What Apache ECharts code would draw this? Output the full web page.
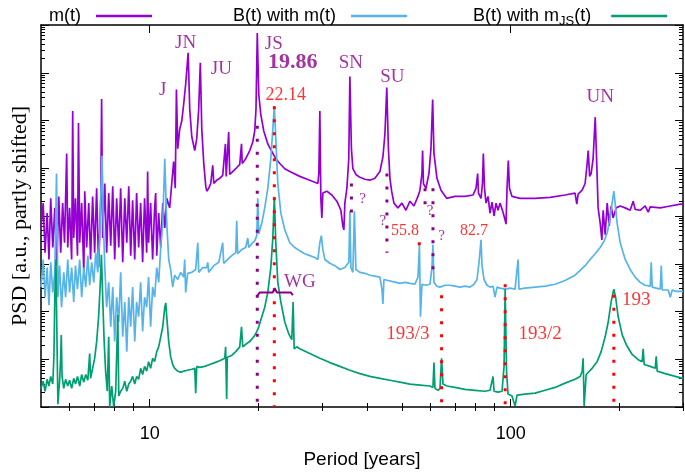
<!DOCTYPE html>
<html><head><meta charset="utf-8">
<script src="https://cdn.jsdelivr.net/npm/echarts@6/dist/echarts.min.js"></script>
<style>html,body{margin:0;padding:0;background:#fff}#c{width:685px;height:474px}</style>
</head><body><div id="c"></div>
<script>
// Each point: [period in years, log10 of PSD (a.u.)]
const mT = [[5.00,3.75],[5.07,4.27],[5.13,3.23],[5.20,4.06],[5.26,3.09],[5.32,4.37],[5.39,3.34],[5.46,4.17],[5.53,2.96],[5.60,4.41],[5.67,3.23],[5.74,4.27],[5.81,3.44],[5.89,5.31],[5.93,3.34],[6.00,4.17],[6.08,3.09],[6.12,6.20],[6.16,3.54],[6.23,4.37],[6.31,3.17],[6.35,5.95],[6.40,3.44],[6.48,4.27],[6.57,2.82],[6.61,4.52],[6.69,3.34],[6.78,4.27],[6.86,3.09],[6.95,4.41],[7.04,3.23],[7.13,4.58],[7.22,2.92],[7.32,4.37],[7.36,6.45],[7.41,3.54],[7.51,4.68],[7.60,3.23],[7.70,4.48],[7.80,3.38],[7.90,4.62],[8.00,3.09],[8.10,4.37],[8.21,3.34],[8.31,4.58],[8.42,3.03],[8.53,4.37],[8.64,3.44],[8.75,4.62],[8.86,3.17],[8.97,4.33],[9.09,3.09],[9.20,4.48],[9.32,3.34],[9.44,4.27],[9.56,3.03],[9.68,4.37],[9.81,3.23],[9.87,4.93],[9.93,3.44],[10.06,4.27],[10.19,3.09],[10.32,4.17],[10.39,4.48],[10.46,3.17],[10.59,4.06],[10.73,3.34],[10.87,4.27],[11.01,3.75],[11.15,4.37],[11.36,4.17],[11.51,4.68],[11.65,5.14],[11.77,4.58],[11.86,6.65],[11.96,5.41],[12.11,5.82],[12.27,5.99],[12.42,6.34],[12.58,6.76],[12.78,7.42],[12.91,6.24],[13.08,5.66],[13.33,5.37],[13.50,5.62],[13.67,6.24],[13.81,7.21],[13.94,5.82],[14.12,5.10],[14.30,4.62],[14.39,4.52],[14.57,4.58],[14.76,4.68],[14.95,5.06],[15.05,4.68],[15.34,4.75],[15.63,4.79],[15.93,4.85],[16.21,5.51],[16.29,4.83],[16.55,5.76],[16.66,4.87],[16.98,4.93],[17.31,4.99],[17.76,5.08],[17.96,5.51],[18.04,5.10],[18.45,5.20],[18.93,5.37],[19.30,5.55],[19.54,5.78],[19.70,6.24],[19.86,7.83],[20.05,6.55],[20.31,6.13],[20.70,5.78],[21.24,5.51],[21.79,5.35],[22.35,5.20],[22.93,5.10],[23.67,4.99],[24.44,4.93],[26.05,4.83],[27.77,4.75],[29.23,4.68],[29.41,4.89],[29.60,6.20],[29.79,4.37],[29.98,3.96],[30.17,4.48],[30.95,4.52],[31.95,4.44],[32.99,4.31],[33.85,4.12],[34.28,3.79],[34.50,3.71],[34.72,4.27],[35.17,4.58],[35.60,5.20],[35.85,6.92],[36.20,5.41],[36.54,4.99],[37.25,4.87],[38.21,4.81],[39.45,4.77],[40.73,4.75],[42.05,4.79],[43.42,4.93],[44.26,5.24],[44.83,5.72],[45.36,6.69],[45.84,5.41],[46.28,4.79],[46.79,4.52],[47.48,4.27],[48.71,4.17],[49.96,4.27],[51.25,4.12],[52.58,4.31],[53.94,4.21],[55.34,4.41],[56.05,4.54],[56.77,4.89],[57.0,5.37],[57.31,4.68],[58.24,4.58],[59.36,4.89],[60.12,5.41],[60.78,6.44],[61.29,5.31],[62.47,4.79],[64.09,4.54],[66.45,4.37],[70.08,4.41],[74.69,4.41],[78.61,4.44],[80.13,4.58],[81.0,4.89],[81.4,4.48],[82.74,4.37],[83.5,4.68],[83.97,5.31],[84.6,4.58],[85.42,4.27],[86.52,4.41],[87.63,4.06],[88.75,4.29],[89.90,4.00],[91.05,4.27],[92.22,4.12],[93.40,4.27],[95.20,4.08],[96.43,3.92],[97.04,3.83],[97.67,4.58],[98.47,5.16],[99.2,4.58],[100.8,4.41],[106.1,4.37],[116.8,4.37],[128.5,4.39],[141.4,4.44],[150.7,4.48],[152.4,4.25],[153.7,4.46],[157.7,4.54],[160.7,4.68],[162.8,5.10],[163.9,5.37],[165.4,4.83],[167.0,4.89],[169.1,5.20],[171.4,6.07],[172.9,5.20],[174.6,4.17],[176.9,3.85],[178.8,3.50],[180.3,4.12],[182.6,3.61],[185.0,4.27],[187.4,3.79],[189.7,4.21],[192.1,3.96],[195.9,4.17],[201.0,4.21],[207.5,4.17],[214.2,4.12],[218.3,4.31],[221.1,4.14],[228.3,4.12],[235.7,4.21],[240.3,4.08],[243.4,4.19],[259.5,4.17],[276.6,4.21],[294.8,4.25],[300,4.25]];

const bWithM = [[5.00,2.51],[5.07,3.09],[5.13,2.30],[5.20,2.92],[5.26,2.13],[5.32,3.03],[5.39,2.40],[5.46,2.82],[5.52,4.89],[5.57,2.30],[5.63,2.96],[5.70,2.09],[5.78,2.82],[5.85,2.30],[5.93,3.09],[6.00,2.40],[6.08,2.92],[6.16,2.20],[6.23,2.96],[6.31,2.47],[6.40,3.09],[6.48,2.30],[6.57,2.92],[6.65,2.51],[6.74,3.17],[6.82,2.55],[6.91,3.03],[7.00,2.61],[7.09,3.23],[7.18,2.82],[7.27,3.54],[7.32,4.37],[7.38,5.26],[7.43,4.06],[7.51,2.92],[7.60,2.09],[7.70,2.61],[7.80,1.68],[7.90,2.51],[8.00,1.37],[8.10,2.30],[8.21,1.78],[8.31,2.82],[8.42,1.47],[8.53,2.20],[8.64,1.16],[8.75,2.30],[8.86,1.68],[8.97,2.51],[9.09,1.37],[9.20,2.20],[9.32,1.89],[9.44,2.61],[9.56,1.58],[9.68,2.30],[9.81,2.09],[9.93,2.72],[10.06,1.68],[10.19,2.51],[10.32,2.30],[10.46,2.92],[10.59,2.61],[10.73,3.34],[10.87,3.85],[11.01,5.20],[11.15,3.85],[11.29,3.09],[11.43,2.88],[11.58,2.51],[11.73,2.76],[11.96,2.67],[12.19,2.82],[12.42,2.72],[12.50,3.09],[12.58,2.40],[12.74,2.80],[13.08,2.82],[13.41,2.88],[13.59,3.44],[13.67,2.82],[14.03,2.92],[14.39,2.92],[14.48,3.03],[14.57,2.82],[15.05,2.96],[15.54,3.03],[15.93,3.44],[16.03,3.01],[16.45,3.09],[16.87,3.17],[17.31,3.23],[17.42,3.90],[17.53,3.21],[17.99,3.30],[18.45,3.34],[18.69,3.54],[18.81,3.34],[19.17,3.42],[19.54,3.48],[19.80,3.59],[19.92,4.37],[20.05,3.63],[20.44,3.85],[20.83,4.17],[21.24,4.58],[21.65,5.20],[21.93,5.82],[22.14,6.30],[22.35,5.62],[22.64,4.68],[23.08,4.06],[23.67,3.71],[24.44,3.44],[25.23,3.34],[26.05,3.27],[26.89,3.21],[27.77,3.17],[28.67,3.13],[29.23,3.09],[29.60,3.44],[29.88,3.59],[30.17,3.30],[30.56,3.09],[31.55,3.01],[32.57,2.96],[33.63,2.88],[34.72,2.92],[35.62,3.03],[35.85,4.10],[36.08,2.92],[36.54,2.82],[36.90,4.10],[37.25,2.88],[38.21,2.82],[39.45,2.80],[40.73,2.76],[42.05,2.74],[43.42,2.72],[43.98,2.47],[44.26,2.16],[44.54,2.67],[45.70,2.65],[46.87,2.63],[48.09,2.61],[49.33,2.59],[50.93,2.61],[52.58,2.59],[54.28,2.57],[55.34,2.72],[55.86,3.40],[56.23,1.89],[56.77,2.57],[58.24,2.55],[59.74,2.57],[60.50,2.92],[60.89,3.40],[61.29,2.61],[62.47,2.53],[63.68,2.51],[65.74,2.55],[67.88,2.55],[70.08,2.53],[72.35,2.51],[74.69,2.53],[77.12,2.51],[79.12,2.57],[80.64,2.67],[81.68,3.03],[82.74,3.50],[83.26,2.96],[84.34,2.67],[85.97,2.55],[87.63,2.51],[89.32,2.53],[90.47,2.30],[91.63,2.51],[93.40,2.49],[96.43,2.47],[99.56,2.49],[102.8,2.47],[104.8,3.09],[105.4,2.47],[109.5,2.49],[116.8,2.51],[124.5,2.53],[132.7,2.57],[141.4,2.65],[150.7,2.76],[155.7,2.86],[160.7,2.96],[165.9,3.09],[171.3,3.21],[176.9,3.34],[181.5,3.48],[185.0,3.65],[188.5,3.96],[190.9,4.27],[193.0,4.52],[194.6,4.27],[197.1,3.85],[201.0,3.44],[207.5,3.09],[214.2,2.88],[221.1,2.72],[228.3,2.61],[235.7,2.55],[243.4,2.53],[245.0,3.03],[246.5,2.51],[252.9,2.49],[259.5,2.47],[261.2,2.96],[262.8,2.45],[273.1,2.45],[276.6,2.30],[280.1,2.45],[287.4,2.42],[300,2.42]];

const bWithMJS = [[5.00,0.39],[5.07,0.54],[5.13,0.33],[5.20,0.58],[5.26,0.44],[5.32,0.64],[5.39,0.48],[5.43,1.06],[5.46,2.30],[5.50,3.09],[5.53,1.68],[5.57,0.06],[5.60,0.33],[5.63,0.54],[5.67,1.06],[5.69,1.51],[5.72,0.64],[5.78,0.39],[5.85,0.58],[5.93,0.44],[6.00,0.56],[6.08,0.39],[6.16,0.60],[6.23,0.48],[6.31,0.64],[6.40,0.44],[6.48,0.68],[6.57,0.52],[6.65,0.68],[6.74,0.56],[6.82,1.12],[6.86,0.60],[6.95,0.81],[7.04,1.02],[7.13,1.37],[7.22,1.89],[7.29,2.51],[7.35,3.19],[7.41,2.30],[7.48,1.37],[7.55,0.75],[7.63,0.33],[7.70,1.47],[7.75,0],[7.85,0.44],[7.95,0],[8.05,0.33],[8.16,1.93],[8.21,0.23],[8.31,0.33],[8.42,0.39],[8.53,0.54],[8.64,0.33],[8.75,0.48],[8.86,0.54],[8.97,0.64],[9.09,0.48],[9.20,0.64],[9.32,0.58],[9.44,0.81],[9.56,0.68],[9.68,0.85],[9.81,0.75],[9.93,0.95],[10.06,0.81],[10.19,1.02],[10.32,0.95],[10.46,1.16],[10.59,1.26],[10.73,1.47],[10.87,1.68],[11.01,2.09],[11.08,2.18],[11.15,1.89],[11.29,1.37],[11.43,1.06],[11.58,0.89],[11.73,0.81],[11.96,0.75],[12.19,0.73],[12.42,0.75],[12.74,0.77],[13.08,0.79],[13.33,0.81],[13.41,0.29],[13.50,0.85],[13.76,0.83],[14.21,0.85],[14.67,0.89],[15.15,0.93],[15.63,0.97],[16.14,1.02],[16.23,1.26],[16.34,0.17],[16.40,1.04],[16.87,1.08],[17.31,1.16],[17.76,1.26],[17.96,1.68],[18.10,1.26],[18.57,1.33],[18.93,1.37],[19.42,1.47],[19.80,1.58],[20.05,1.68],[20.44,1.89],[20.83,2.09],[21.24,2.40],[21.65,2.92],[21.93,3.54],[22.14,4.40],[22.35,3.44],[22.64,2.61],[23.08,2.20],[23.67,1.78],[24.28,1.53],[24.75,1.41],[24.96,2.20],[25.13,1.22],[25.56,1.26],[26.05,1.22],[27.77,1.12],[29.60,1.02],[31.55,0.93],[33.63,0.85],[35.85,0.77],[38.21,0.70],[40.73,0.64],[43.42,0.60],[46.28,0.56],[49.33,0.52],[52.58,0.48],[56.05,0.46],[59.74,0.44],[60.89,0.41],[61.29,0.93],[61.68,0.39],[62.87,0.35],[63.68,0.39],[64.33,1.02],[64.91,0.48],[66.59,0.44],[70.08,0.41],[74.69,0.37],[79.62,0.35],[84.87,0.33],[87.63,0.35],[88.75,0.39],[89.32,0.64],[89.90,0.33],[92.22,0.31],[94.60,0.33],[95.82,0.85],[96.5,2.47],[97.36,0.75],[98.29,0.27],[100.8,0.23],[102.8,0.02],[104.1,0.25],[109.5,0.27],[116.8,0.29],[124.5,0.35],[132.7,0.41],[141.4,0.50],[150.7,0.58],[155.7,0.64],[157.7,0.75],[158.7,1.02],[159.7,0.02],[161.8,0.68],[168.0,0.81],[173.5,0.95],[178.0,1.16],[182.6,1.47],[186.2,1.78],[189.7,2.20],[192.1,2.40],[193.0,2.47],[195.2,2.30],[198.4,1.89],[203.6,1.51],[208.8,1.31],[216.9,1.10],[225.4,0.99],[231.2,0.95],[232.7,1.22],[234.2,0.89],[243.4,0.85],[251.3,0.81],[252.9,1.06],[254.5,0.75],[267.9,0.70],[285.6,0.64],[300,0.60]];

// Axis ticks and labels
const xMajorTicks = [10, 100];
const xMinorTicks = [6, 7, 8, 9, 20, 30, 40, 50, 60, 70, 80, 90, 200, 300];
const yDecades = [0, 1, 2, 3, 4, 5, 6, 7, 8];
const yMinorFactors = [2, 3, 4, 5, 6, 7, 8, 9];

// Text annotations: [text, period, log10 PSD, kind]
const annotations = [
  ['J', 10.87, 6.63, 'name'], ['JN', 12.58, 7.63, 'name'], ['JU', 15.80, 7.07, 'name'],
  ['JS', 22.07, 7.61, 'name'], ['19.86', 24.91, 7.21, 'bold'], ['22.14', 23.82, 6.53, 'redBig'],
  ['SN', 36.08, 7.21, 'name'], ['SU', 47.0, 6.92, 'name'], ['UN', 176.9, 6.49, 'name'],
  ['?', 38.88, 4.35, 'q'], ['?', 44.26, 3.90, 'q'], ['?', 59.74, 4.10, 'q'], ['?', 64.38, 3.59, 'q'],
  ['55.8', 50.93, 3.69, 'redSmall'], ['82.7', 79.12, 3.69, 'redSmall'], ['WG', 26.05, 2.61, 'name'],
  ['193/3', 51.9, 1.53, 'red'], ['193/2', 120.6, 1.53, 'red'], ['193', 222.6, 2.24, 'red']
];
// Dotted guide lines: [period, top log10 PSD, bottom log10 PSD, kind]
const dottedLines = [
  [19.86, 5.89, 0, 'p'], [36.2, 4.68, 4.06, 'p'], [45.4, 4.89, 3.23, 'p'], [57.9, 4.58, 4.06, 'p'], [60.9, 4.58, 2.88, 'p'],
  [22.14, 6.30, 0, 'r'], [55.8, 3.45, 3.30, 'r'], [64.33, 2.34, 0, 'r'], [96.5, 2.57, 0, 'r'], [193, 2.35, 0, 'r']
];
// "WG" brace: [period, log10 PSD]
const wgBrace = [[19.92,2.34],[20.18,2.40],[21.93,2.40],[22.2,2.49],[22.49,2.40],[24.6,2.40],[24.91,2.34]];

const PURPLE = '#9400d3', BLUE = '#56b4e9', GREEN = '#009e73', DM = '#8b008b', RED = '#ff0000';
const toData = arr => arr.map(p => [p[0], Math.pow(10, p[1])]);
const lg = Math.log10;
const xMin = 5, xMax = 300;

const yMinor = [];
yDecades.slice(0, -1).forEach(k => yMinorFactors.forEach(f => yMinor.push(k + lg(f))));

const labelStyles = {
  name: { color: DM, fontSize: 19, fontFamily: 'Liberation Serif' },
  bold: { color: DM, fontSize: 22, fontWeight: 'bold', fontFamily: 'Liberation Serif' },
  q: { color: DM, fontSize: 15, fontFamily: 'Liberation Serif' },
  redBig: { color: RED, fontSize: 18, fontFamily: 'Liberation Serif' },
  redSmall: { color: RED, fontSize: 16, fontFamily: 'Liberation Serif' },
  red: { color: RED, fontSize: 19, fontFamily: 'Liberation Serif' }
};

const tickAxisX = (pos, vals, len, extra) => Object.assign({
  type: 'value', position: pos, min: lg(xMin), max: lg(xMax), gridIndex: 0,
  axisLine: { show: false }, splitLine: { show: false },
  axisTick: { show: true, inside: true, length: len, customValues: vals.map(lg), lineStyle: { color: '#000', width: 1 } },
  axisLabel: { show: false }
}, extra || {});
const tickAxisY = (pos, vals, len, extra) => Object.assign({
  type: 'value', position: pos, min: 0, max: 8, gridIndex: 0,
  axisLine: { show: false }, splitLine: { show: false },
  axisTick: { show: true, inside: true, length: len, customValues: vals, lineStyle: { color: '#000', width: 1 } },
  axisLabel: { show: false }
}, extra || {});

const frameLine = { show: true, onZero: false, lineStyle: { color: '#000', width: 1.5 } };

const series = [
  { name: 'm(t)', type: 'line', data: toData(mT), color: PURPLE },
  { name: 'B(t) with m(t)', type: 'line', data: toData(bWithM), color: BLUE },
  { name: 'B(t) with mJS(t)', type: 'line', data: toData(bWithMJS), color: GREEN }
].map(s => Object.assign(s, { symbol: 'none', lineStyle: { width: 1.7 }, xAxisIndex: 0, yAxisIndex: 0, z: 2 }));

dottedLines.forEach(d => series.push({
  type: 'line', symbol: 'none', silent: true, z: 4, xAxisIndex: 0, yAxisIndex: 0,
  data: toData([[d[0], d[1]], [d[0], d[2]]]),
  lineStyle: { color: d[3] === 'p' ? DM : RED, width: 3, type: [3, 10] }
}));
series.push({
  type: 'line', symbol: 'none', silent: true, z: 4, data: toData(wgBrace),
  lineStyle: { color: DM, width: 2 }
});
series.push({
  type: 'scatter', silent: true, z: 5, symbolSize: 0,
  data: annotations.map(a => ({
    value: [a[1], Math.pow(10, a[2])],
    label: Object.assign({ show: true, position: 'inside', formatter: a[0] }, labelStyles[a[3]])
  }))
});

const legendBase = {
  orient: 'horizontal', top: 2, align: 'right', icon: 'rect', itemWidth: 56, itemHeight: 2.5, selectedMode: false,
  textStyle: { fontFamily: 'Liberation Sans', fontSize: 18, color: '#000',
    rich: { sub: { fontFamily: 'Liberation Sans', fontSize: 13, color: '#000', padding: [10, 0, 0, 0] } } }
};

const chart = echarts.init(document.getElementById('c'), null, { renderer: 'canvas' });
chart.setOption({
  animation: false,
  backgroundColor: '#fff',
  grid: { left: 41, right: 2, top: 25, bottom: 63, containLabel: false },
  legend: [
    Object.assign({}, legendBase, { left: 44, data: ['m(t)'], formatter: n => n + '  ' }),
    Object.assign({}, legendBase, { left: 228, data: ['B(t) with m(t)'], formatter: n => n + '  ' }),
    Object.assign({}, legendBase, { left: 468, data: ['B(t) with mJS(t)'], formatter: () => 'B(t) with m{sub|JS}(t)   ' })
  ],
  xAxis: [
    { type: 'log', logBase: 10, min: xMin, max: xMax, position: 'bottom',
      axisLine: frameLine, axisTick: { show: false }, axisLabel: { show: false }, splitLine: { show: false },
      name: 'Period [years]', nameLocation: 'middle', nameGap: 43,
      nameTextStyle: { fontFamily: 'Liberation Sans', fontSize: 19, color: '#000' } },
    tickAxisX('bottom', xMajorTicks, 8, { axisLabel: { show: true, customValues: xMajorTicks.map(lg), margin: 18,
      formatter: v => String(Math.round(Math.pow(10, v))), fontFamily: 'Liberation Sans', fontSize: 18, color: '#000' } }),
    tickAxisX('bottom', xMinorTicks, 4),
    tickAxisX('top', xMajorTicks, 8, { axisLine: frameLine }),
    tickAxisX('top', xMinorTicks, 4)
  ],
  yAxis: [
    { type: 'log', logBase: 10, min: 1, max: 1e8, position: 'left',
      axisLine: frameLine, axisTick: { show: false }, axisLabel: { show: false }, splitLine: { show: false },
      name: 'PSD [a.u., partly shifted]', nameLocation: 'middle', nameGap: 10,
      nameTextStyle: { fontFamily: 'Liberation Serif', fontSize: 22, color: '#000' } },
    tickAxisY('left', yDecades, 8),
    tickAxisY('left', yMinor, 4),
    tickAxisY('right', yDecades, 8, { axisLine: frameLine }),
    tickAxisY('right', yMinor, 4)
  ],
  series
});
</script>
</body></html>
